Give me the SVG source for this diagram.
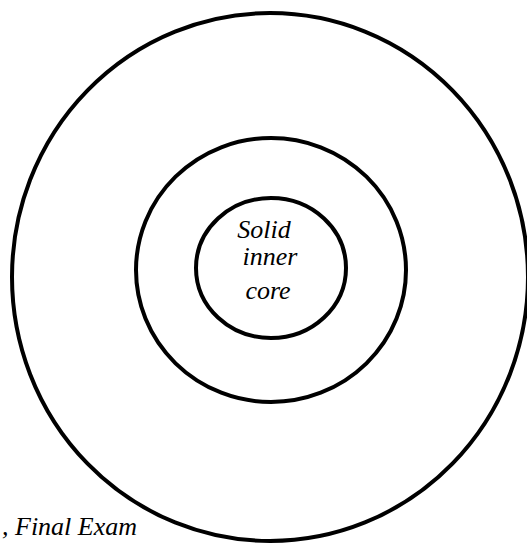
<svg xmlns="http://www.w3.org/2000/svg" width="527" height="544" viewBox="0 0 527 544">
<style>
.ring{fill:none;stroke:#000;stroke-width:4}
.hand{font-family:"Liberation Serif",serif;font-style:italic;font-size:26px;fill:#000;text-anchor:middle}
.cap{font-family:"Liberation Serif",serif;font-style:italic;font-size:26px;fill:#000}
</style>
<rect width="527" height="544" fill="#fff"/>
<g id="outer-layer"><ellipse class="ring" cx="270" cy="277" rx="258" ry="264"/></g>
<g id="middle-layer"><ellipse class="ring" cx="271" cy="270" rx="135" ry="132"/></g>
<g id="inner-core">
<ellipse class="ring" cx="271" cy="268" rx="75" ry="70"/>
<text class="hand" x="264" y="238">Solid</text>
<text class="hand" x="270" y="265">inner</text>
<text class="hand" x="268" y="299">core</text>
</g>
<g id="connectors"/>
<text class="cap" x="2" y="535">, Final Exam</text>
</svg>
